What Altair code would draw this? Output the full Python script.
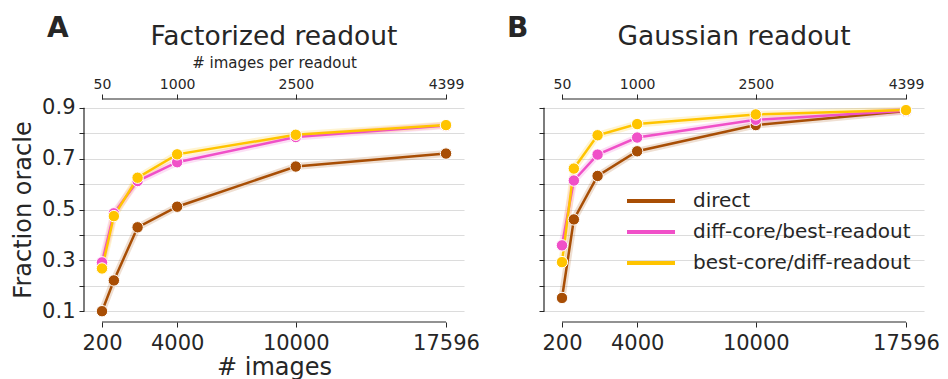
import altair as alt
import pandas as pd

# ---------------- data ----------------
n_images = [200, 800, 2000, 4000, 10000, 17596]
models = ["direct", "diff-core/best-readout", "best-core/diff-readout"]
colors = ["#a84e05", "#f050c8", "#ffc400"]

fact_direct = [0.100, 0.221, 0.430, 0.511, 0.669, 0.720]
fact_diffcore = [0.292, 0.485, 0.612, 0.686, 0.785, 0.830]
fact_bestcore = [0.268, 0.474, 0.625, 0.717, 0.794, 0.832]

gauss_direct = [0.152, 0.461, 0.632, 0.729, 0.832, 0.887]
gauss_diffcore = [0.359, 0.614, 0.716, 0.783, 0.853, 0.888]
gauss_bestcore = [0.293, 0.661, 0.792, 0.836, 0.874, 0.891]

x_ticks = [200, 4000, 10000, 17596]
y_ticks = [0.1, 0.2, 0.3, 0.4, 0.5, 0.6, 0.7, 0.8, 0.9]

W, H = 380, 211
TXT = "#262626"
PADPX = 18
_ppu = (W - 2 * PADPX) / (x_ticks[-1] - x_ticks[0])
X_DOMAIN = [x_ticks[0] - PADPX / _ppu, x_ticks[-1] + PADPX / _ppu]


def make_df(series):
    rows = []
    for m, vals in zip(models, series):
        for n, v in zip(n_images, vals):
            rows.append({"n": n, "v": v, "model": m, "k": models.index(m)})
    return pd.DataFrame(rows)


xscale = alt.Scale(domain=X_DOMAIN, nice=False, zero=False)
yscale = alt.Scale(domain=[0.085, 0.915], nice=False, zero=False)
cscale = alt.Scale(domain=models, range=colors)


def panel(df, title, letter, first):
    if first:
        legend = None
    else:
        legend = alt.Legend(orient="none", legendX=93, legendY=83, title=None,
                            symbolType="M-2,0H2", symbolSize=576, symbolStrokeWidth=4,
                            symbolOpacity=1, labelFontSize=20, labelColor=TXT,
                            labelOffset=28, labelLimit=0, rowPadding=7)
    color = alt.Color("model:N", scale=cscale, legend=legend, sort=models)

    xb_kwargs = dict(values=x_ticks, domain=False, grid=False, offset=7, tickSize=5,
                     labelFontSize=21, labelPadding=5, format="d", labelFlush=False,
                     labelOverlap=False, tickColor=TXT, labelColor=TXT)
    if first:
        xb_kwargs.update(title="# images", titleFontSize=24, titlePadding=2)
    else:
        xb_kwargs.update(title="")
    x_bottom = alt.X("n:Q", scale=xscale, axis=alt.Axis(**xb_kwargs))

    y_kwargs = dict(values=y_ticks, domain=False, grid=True, gridColor="#dcdcdc",
                    gridWidth=1.2, tickSize=5, tickColor=TXT, labelFontSize=21,
                    labelPadding=4, labelColor=TXT,
                    labelExpr="(round(datum.value*10) % 2 == 1) ? format(datum.value, '.1f') : ''")
    if first:
        y_kwargs.update(title="Fraction oracle", titleFontSize=24, titlePadding=6)
    else:
        y_kwargs.update(labels=False, title="")
    yaxis = alt.Axis(**y_kwargs)
    y_main = alt.Y("v:Q", scale=yscale, axis=yaxis)

    xn = alt.X("n:Q", scale=xscale, axis=None)

    base = alt.Chart(df)
    band = base.mark_line(strokeWidth=7, opacity=0.18).encode(
        x=x_bottom, y=y_main, color=color, order="k:Q", detail="model:N")
    line = base.mark_line(strokeWidth=2.5).encode(x=xn, y=y_main, color=color)
    pts = base.mark_circle(size=130, opacity=1, stroke="white", strokeWidth=1).encode(
        x=xn, y=y_main, color=color, order="k:Q")

    xt_kwargs = dict(orient="top", values=x_ticks, domain=False, grid=False, offset=5,
                     tickSize=5, labelFontSize=14, labelPadding=3,
                     labelExpr="format(datum.value/4, 'd')", labelFlush=False,
                     labelOverlap=False, tickColor=TXT, labelColor=TXT)
    if first:
        xt_kwargs.update(title="# images per readout", titleFontSize=15, titlePadding=7)
    else:
        xt_kwargs.update(title="")
    top = base.mark_point(opacity=0).encode(
        x=alt.X("n:Q", scale=xscale, axis=alt.Axis(**xt_kwargs)), y=y_main)

    ext_x = pd.DataFrame({"a": [x_ticks[0]], "b": [x_ticks[-1]]})
    ext_y = pd.DataFrame({"a": [y_ticks[0]], "b": [y_ticks[-1]]})
    bottom_rule = alt.Chart(ext_x).mark_rule(color=TXT, strokeWidth=1.2).encode(
        x=alt.X("a:Q", scale=xscale, axis=None), x2="b:Q", y=alt.value(H + 7))
    top_rule = alt.Chart(ext_x).mark_rule(color=TXT, strokeWidth=1.2).encode(
        x=alt.X("a:Q", scale=xscale, axis=None), x2="b:Q", y=alt.value(-5))
    left_rule = alt.Chart(ext_y).mark_rule(color=TXT, strokeWidth=1.2).encode(
        y=alt.Y("a:Q", scale=yscale, axis=yaxis), y2="b:Q", x=alt.value(0))

    lett = alt.Chart(pd.DataFrame({"t": [letter]})).mark_text(
        fontSize=28, fontWeight="bold", align="left", baseline="alphabetic",
        color=TXT).encode(text="t:N", x=alt.value(-37), y=alt.value(-67))
    ttl = alt.Chart(pd.DataFrame({"t": [title]})).mark_text(
        fontSize=26.5, align="center", baseline="alphabetic",
        color=TXT).encode(text="t:N", x=alt.value(W / 2), y=alt.value(-59))

    return alt.layer(band, line, pts, top, bottom_rule, top_rule, left_rule, lett, ttl).resolve_axis(
        x="independent").properties(width=W, height=H)


pa = panel(make_df([fact_direct, fact_diffcore, fact_bestcore]), "Factorized readout", "A", True)
pb = panel(make_df([gauss_direct, gauss_diffcore, gauss_bestcore]), "Gaussian readout", "B", False)

chart = alt.hconcat(pa, pb, spacing=80, bounds="flush").resolve_scale(
    color="independent").configure(font="DejaVu Sans").configure_view(
    stroke=None).configure_axis(titleFontWeight="normal", titleColor=TXT).properties(
    padding={"left": 3, "top": 7, "right": 0, "bottom": 0})

chart.save("out.html", embed_options={"renderer": "svg", "actions": False})
